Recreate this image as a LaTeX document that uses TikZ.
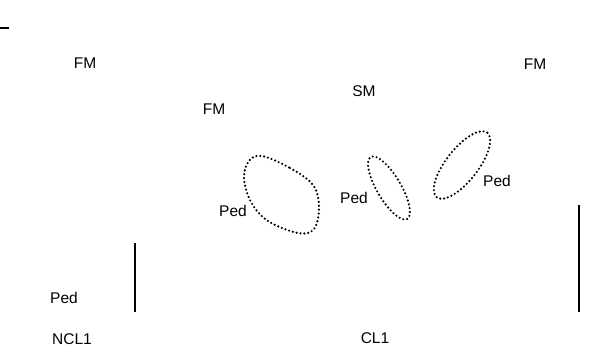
\documentclass[tikz,border=0pt]{standalone}
\usepackage{fontspec}
\setmainfont{Liberation Sans}
\usepackage{tikz}
\usetikzlibrary{positioning}
\usetikzlibrary{calc}
\tikzstyle{regionlabel}=[font=\fontsize{15.5}{18}\selectfont,inner sep=0pt]
\tikzstyle{outline}=[draw,line width=2.4pt,dash pattern=on 0pt off 3.9pt,line cap=round]
\tikzstyle{bar}=[draw,line width=2pt]

\begin{document}
\begin{tikzpicture}[x=1pt,y=1pt]
    \useasboundingbox (0,0) rectangle (597,-353);
    % labels of the panels
    \foreach \pos/\name/\label in {{(85,-63)/fmA/FM}, {(214,-109)/fmB/FM}, {(364,-91)/sm/SM}, {(535,-64)/fmC/FM}, {(233,-211)/pedA/Ped}, {(354,-198)/pedB/Ped}, {(497,-181)/pedC/Ped}, {(64,-298)/pedD/Ped}, {(72,-339)/ncl/NCL1}, {(375,-338)/cl/CL1}}
        \node[regionlabel] (\name) at \pos {\label};

    % dotted outlines
    \path[outline] plot[smooth cycle, tension=0.6] coordinates {(262,-156) (290,-168) (313,-185) (319,-207) (314,-229) (298,-233) (268,-221) (251,-202) (244,-178) (249,-161)};
    \path[outline] (389,-188) ellipse[x radius=36, y radius=12, rotate=-59.5];
    \path[outline] (462,-165) ellipse[x radius=41, y radius=16, rotate=52];

    % scale bars
    \coordinate (tl1) at (0,-28);
    \coordinate (tl2) at (9,-28);
    \coordinate (b1) at (135,-243);
    \coordinate (b2) at (135,-312);
    \coordinate (b3) at (579,-205);
    \coordinate (b4) at (579,-312);
    \foreach \source/\dest in {tl1/tl2, b1/b2, b3/b4}
        \path[bar] (\source) -- (\dest);
\end{tikzpicture}
\end{document}
